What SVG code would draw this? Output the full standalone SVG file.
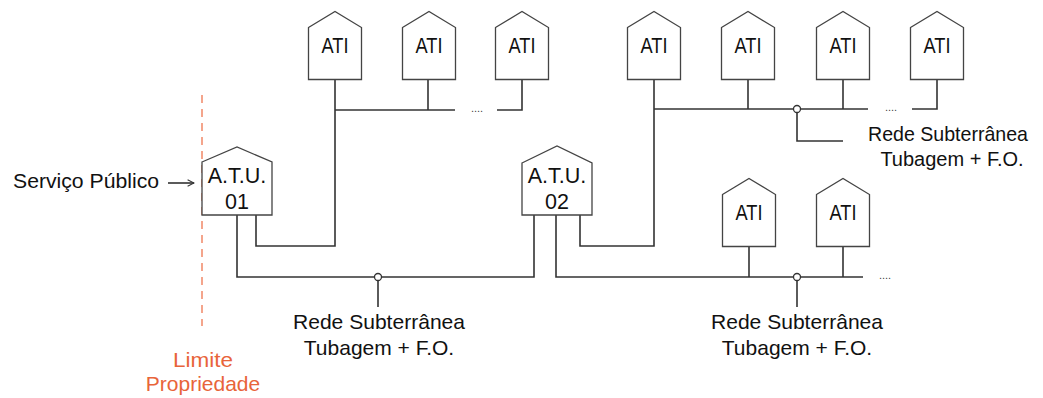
<svg xmlns="http://www.w3.org/2000/svg" width="1043" height="398" viewBox="0 0 1043 398">
<defs>
<style>
.box{fill:#fff;stroke:#444;stroke-width:1.3}
.ln{fill:none;stroke:#333;stroke-width:1.6}
.t{font-family:"Liberation Sans",Arial,sans-serif;fill:#111;text-anchor:middle}
.ati{font-size:22px}
.atu{font-size:21.5px}
.lbl{font-size:21px}
.dots{font-family:"Liberation Sans",Arial,sans-serif;font-size:11px;fill:#444;text-anchor:middle}
.org{font-family:"Liberation Sans",Arial,sans-serif;font-size:21px;fill:#E8643A;text-anchor:middle}
</style>
<symbol id="ati" viewBox="0 0 54 70" width="54" height="70" overflow="visible">
<path class="box" d="M0.5,16.5 L27,0.5 L53.5,16.5 L53.5,68.5 L0.5,68.5 Z"/>
</symbol>
<marker id="arr" viewBox="0 0 10 10" refX="9" refY="5" markerWidth="8" markerHeight="8" orient="auto" markerUnits="userSpaceOnUse">
<path d="M1,1 L9,5 L1,9" fill="none" stroke="#333" stroke-width="1.3"/>
</marker>
</defs>
<rect width="1043" height="398" fill="#fff"/>

<g id="limite">
<line x1="202" y1="95" x2="202" y2="326" stroke="#F4A58C" stroke-width="2" stroke-dasharray="8,6"/>
<text class="org" x="203" y="367" textLength="60" lengthAdjust="spacingAndGlyphs">Limite</text>
<text class="org" x="203" y="391">Propriedade</text>
</g>

<g id="servico">
<text class="t" x="86" y="188" style="font-size:21px" textLength="146" lengthAdjust="spacingAndGlyphs">Serviço Público</text>
<line x1="168" y1="183" x2="194" y2="183" class="ln" stroke-width="1.2" marker-end="url(#arr)"/>
</g>

<g id="connectors">
<polyline class="ln" points="335,79 335,246 256,246 256,215"/>
<line class="ln" x1="335" y1="110" x2="455" y2="110"/>
<line class="ln" x1="428" y1="79" x2="428" y2="110"/>
<polyline class="ln" points="497,110 522,110 522,79"/>
<text class="dots" x="477" y="112">....</text>
<polyline class="ln" points="237,215 237,277 534,277 534,215"/>
<line class="ln" x1="378" y1="280" x2="378" y2="307"/>
<circle cx="378" cy="277" r="3.5" fill="#fff" stroke="#333" stroke-width="1.3"/>
<polyline class="ln" points="556,215 556,277 863,277"/>
<line class="ln" x1="749" y1="247" x2="749" y2="277"/>
<line class="ln" x1="843" y1="247" x2="843" y2="277"/>
<line class="ln" x1="797" y1="280" x2="797" y2="307"/>
<circle cx="797" cy="277" r="3.5" fill="#fff" stroke="#333" stroke-width="1.3"/>
<text class="dots" x="885" y="279">....</text>
<polyline class="ln" points="580,215 580,246 654,246 654,79"/>
<line class="ln" x1="654" y1="109" x2="868" y2="109"/>
<line class="ln" x1="748" y1="79" x2="748" y2="109"/>
<line class="ln" x1="843" y1="79" x2="843" y2="109"/>
<polyline class="ln" points="797,112 797,141 843,141"/>
<circle cx="797" cy="109" r="3.5" fill="#fff" stroke="#333" stroke-width="1.3"/>
<text class="dots" x="891" y="111">....</text>
<polyline class="ln" points="912,109 937,109 937,79"/>
</g>

<g id="atu01">
<path class="box" d="M202,162 L237,147 L272,162 L272,215 L202,215 Z"/>
<text class="t atu" x="237" y="183">A.T.U.</text>
<text class="t atu" x="237" y="209">01</text>
</g>
<g id="atu02">
<path class="box" d="M522,163 L557,146 L592,163 L592,215 L522,215 Z"/>
<text class="t atu" x="557" y="183">A.T.U.</text>
<text class="t atu" x="557" y="209">02</text>
</g>

<g id="ati1"><use href="#ati" x="308" y="11"/><text class="t ati" x="335" y="53" textLength="27" lengthAdjust="spacingAndGlyphs">ATI</text></g>
<g id="ati2"><use href="#ati" x="402" y="11"/><text class="t ati" x="429" y="53" textLength="27" lengthAdjust="spacingAndGlyphs">ATI</text></g>
<g id="ati3"><use href="#ati" x="495" y="11"/><text class="t ati" x="522" y="53" textLength="27" lengthAdjust="spacingAndGlyphs">ATI</text></g>
<g id="ati4"><use href="#ati" x="627" y="11"/><text class="t ati" x="654" y="53" textLength="27" lengthAdjust="spacingAndGlyphs">ATI</text></g>
<g id="ati5"><use href="#ati" x="721" y="11"/><text class="t ati" x="748" y="53" textLength="27" lengthAdjust="spacingAndGlyphs">ATI</text></g>
<g id="ati6"><use href="#ati" x="816" y="11"/><text class="t ati" x="843" y="53" textLength="27" lengthAdjust="spacingAndGlyphs">ATI</text></g>
<g id="ati7"><use href="#ati" x="910" y="11"/><text class="t ati" x="937" y="53" textLength="27" lengthAdjust="spacingAndGlyphs">ATI</text></g>
<g id="ati8"><use href="#ati" x="722" y="178"/><text class="t ati" x="749" y="220" textLength="27" lengthAdjust="spacingAndGlyphs">ATI</text></g>
<g id="ati9"><use href="#ati" x="816" y="178"/><text class="t ati" x="843" y="220" textLength="27" lengthAdjust="spacingAndGlyphs">ATI</text></g>

<g id="rede1">
<text class="t lbl" x="379" y="329" textLength="172" lengthAdjust="spacingAndGlyphs">Rede Subterrânea</text>
<text class="t lbl" x="379" y="355">Tubagem + F.O.</text>
</g>
<g id="rede2">
<text class="t lbl" x="797" y="329" textLength="172" lengthAdjust="spacingAndGlyphs">Rede Subterrânea</text>
<text class="t lbl" x="797" y="355">Tubagem + F.O.</text>
</g>
<g id="rede3">
<text class="t lbl" x="948" y="141" textLength="160" lengthAdjust="spacingAndGlyphs">Rede Subterrânea</text>
<text class="t lbl" x="952" y="166" style="font-size:20px">Tubagem + F.O.</text>
</g>
</svg>
